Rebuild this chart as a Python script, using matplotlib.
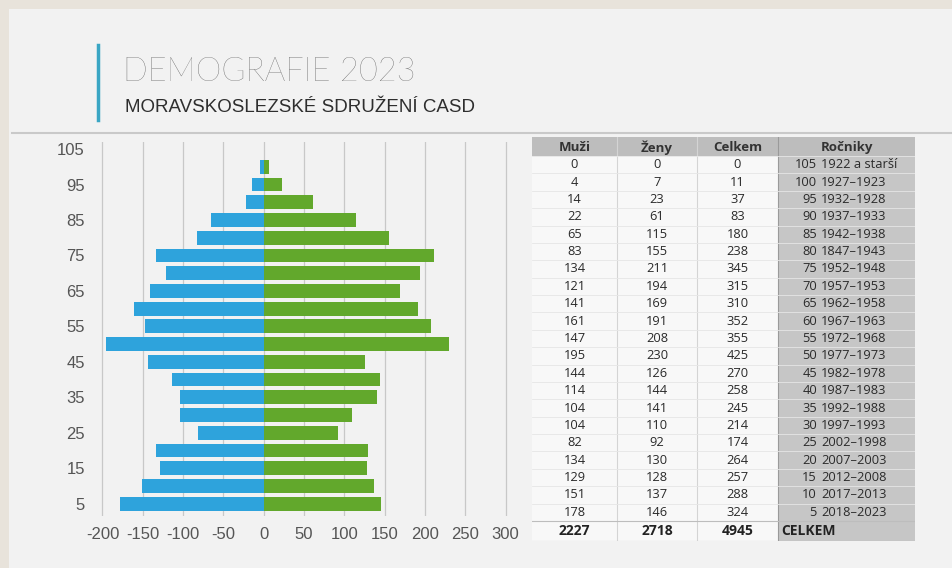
import numpy as np
import matplotlib
matplotlib.use("Agg")
import matplotlib.pyplot as plt
from matplotlib.patches import Rectangle

plt.rcParams["font.family"] = ["Open Sans", "DejaVu Sans"]
plt.rcParams["axes.unicode_minus"] = False

# --- data (age group, men, women, birth years) ---
ages = [105, 100, 95, 90, 85, 80, 75, 70, 65, 60, 55, 50, 45, 40, 35, 30, 25, 20, 15, 10, 5]
muzi = [0, 4, 14, 22, 65, 83, 134, 121, 141, 161, 147, 195, 144, 114, 104, 104, 82, 134, 129, 151, 178]
zeny = [0, 7, 23, 61, 115, 155, 211, 194, 169, 191, 208, 230, 126, 144, 141, 110, 92, 130, 128, 137, 146]
celkem = [0, 11, 37, 83, 180, 238, 345, 315, 310, 352, 355, 425, 270, 258, 245, 214, 174, 264, 257, 288, 324]
rocniky = ["1922 a starší", "1927–1923", "1932–1928", "1937–1933", "1942–1938", "1847–1943",
           "1952–1948", "1957–1953", "1962–1958", "1967–1963", "1972–1968", "1977–1973",
           "1982–1978", "1987–1983", "1992–1988", "1997–1993", "2002–1998", "2007–2003",
           "2012–2008", "2017–2013", "2018–2023"]
totals = [2227, 2718, 4945]

W, H = 952, 568
fig = plt.figure(figsize=(W / 100, H / 100), dpi=100)
fig.patch.set_facecolor("#e8e3db")


def box(x0, y0, x1, y1):
    # pixel box (top-left origin) -> figure fraction
    return [x0 / W, 1 - y1 / H, (x1 - x0) / W, (y1 - y0) / H]


bg = fig.add_axes([0, 0, 1, 1]); bg.set_xlim(0, W); bg.set_ylim(H, 0); bg.axis("off")
bg.add_patch(Rectangle((9, 9), W, H, color="#f2f2f2", lw=0))
bg.plot([12, W], [133, 133], color="#c9c9c9", lw=1.5)
bg.plot([98, 98], [45, 120], color="#3aa6c4", lw=2.5)
bg.text(123, 72, "DEMOGRAFIE 2023", fontsize=23.5, color="#555555", va="center",
        family=["Lato", "DejaVu Sans"], fontweight="light")
bg.text(125, 107, "MORAVSKOSLEZSKÉ SDRUŽENÍ CASD", fontsize=13.5, color="#2e2e2e", va="center",
        family=["Liberation Sans", "DejaVu Sans"])

# --- pyramid ---
ax = fig.add_axes(box(96, 142, 512, 516))
ax.set_facecolor("none")
ax.barh(ages, [-m for m in muzi], height=3.9, color="#2ea3dc")
ax.barh(ages, zeny, height=3.9, color="#62a82c")
ax.set_xlim(-208, 308)
ax.set_ylim(1.5, 107)
ax.set_xticks(np.arange(-200, 301, 50))
ax.set_yticks(np.arange(5, 106, 10))
ax.grid(axis="x", color="#c8c8c8", lw=0.9)
ax.set_axisbelow(True)
for s in ax.spines.values():
    s.set_visible(False)
ax.tick_params(length=0, colors="#555555", pad=8)
ax.tick_params(axis="x", pad=8)
for lab in ax.get_xticklabels() + ax.get_yticklabels():
    lab.set_family(["Liberation Sans", "DejaVu Sans"])
    lab.set_fontsize(12)

# --- table ---
tx0, tx1, ty0, ty1 = 532, 915, 137, 541
tb = fig.add_axes(box(tx0, ty0, tx1, ty1))
tb.set_xlim(0, tx1 - tx0); tb.set_ylim(ty1 - ty0, 0); tb.axis("off")
cols = [0, 85, 165, 246, 383]
hdr_h = 19
n = len(ages)
row_h = (ty1 - ty0 - hdr_h - 20) / n
tot_y = hdr_h + n * row_h
tb.add_patch(Rectangle((0, 0), cols[4], hdr_h, color="#bdbdbd", lw=0))
tb.add_patch(Rectangle((cols[3], hdr_h), cols[4] - cols[3], n * row_h + 20, color="#c6c6c6", lw=0))
tb.add_patch(Rectangle((0, hdr_h), cols[3], n * row_h + 20, color="#f8f8f8", lw=0))
for c in cols[1:3]:
    tb.plot([c, c], [0, tot_y + 20], color="#d4d4d4", lw=0.8)
tb.plot([cols[3], cols[3]], [0, tot_y + 20], color="#9a9a9a", lw=0.8)
for i in range(n + 1):
    tb.plot([0, cols[4]], [hdr_h + i * row_h] * 2, color="#e6e6e6", lw=0.6)
tb.plot([0, cols[4]], [tot_y, tot_y], color="#bdbdbd", lw=0.8)
tb.plot([0, cols[4]], [tot_y + 20] * 2, color="#bdbdbd", lw=0.8)

tfam = ["Open Sans", "DejaVu Sans"]
for j, h in enumerate(["Muži", "Ženy", "Celkem", "Ročniky"]):
    tb.text((cols[j] + cols[j + 1]) / 2, hdr_h / 2 + 1, h, ha="center", va="center",
            fontsize=9.5, fontweight="bold", color="#333333", family=tfam)
for i in range(n):
    yc = hdr_h + (i + 0.5) * row_h
    for j, v in enumerate([muzi[i], zeny[i], celkem[i]]):
        tb.text((cols[j] + cols[j + 1]) / 2, yc, str(v), ha="center", va="center",
                fontsize=9.3, color="#2a2a2a", family=tfam)
    tb.text(cols[3] + 39, yc, str(ages[i]), ha="right", va="center", fontsize=9.3,
            color="#2a2a2a", family=tfam)
    tb.text(cols[3] + 43, yc, rocniky[i], ha="left", va="center", fontsize=9.3,
            color="#2a2a2a", family=tfam)
for j, v in enumerate(totals):
    tb.text((cols[j] + cols[j + 1]) / 2, tot_y + 10, str(v), ha="center", va="center",
            fontsize=10, fontweight="bold", color="#222222", family=tfam)
tb.text(cols[3] + 3, tot_y + 10, "CELKEM", ha="left", va="center", fontsize=10,
        fontweight="bold", color="#222222", family=tfam)

fig.savefig("out.png", dpi=100)
